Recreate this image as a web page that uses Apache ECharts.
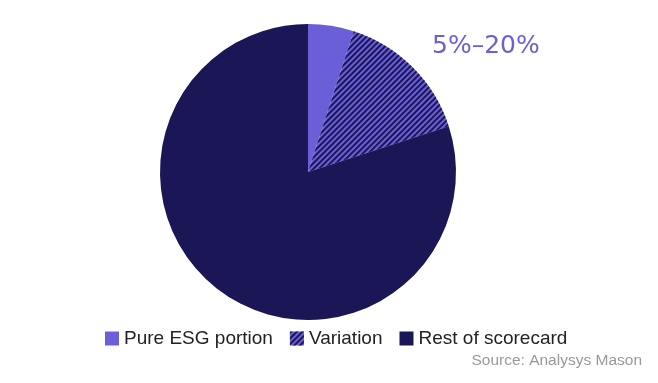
<!DOCTYPE html>
<html><head><meta charset="utf-8">
<script src="https://cdn.jsdelivr.net/npm/echarts@6/dist/echarts.min.js"></script>
<style>html,body{margin:0;padding:0;background:#fff}#c{width:658px;height:383px}</style>
</head><body><div id="c"></div>
<script>
const categories = ["Pure ESG portion", "Variation", "Rest of scorecard"];
const values = [5, 15, 80];
const rangeLabel = "5%–20%";
const sourceText = "Source: Analysys Mason";

const light = "#6a5fd6", dark = "#1b1757";
const chart = echarts.init(document.getElementById('c'), null, {renderer: 'canvas'});
const decal = {symbol: 'rect', symbolSize: 1, dashArrayX: [[1, 0]], dashArrayY: [2, 2], rotation: -Math.PI / 4, color: dark};
chart.setOption({
  animation: false,
  textStyle: {fontFamily: 'Liberation Sans, Arial, sans-serif'},
  legend: {
    data: categories, bottom: 30, left: 100, itemWidth: 14, itemHeight: 14, itemGap: 17,
    textStyle: {fontSize: 19, color: '#222'}, icon: 'rect'
  },
  graphic: [
    {type: 'text', left: 432, top: 34, style: {text: rangeLabel, fontSize: 25, fill: light, fontFamily: 'DejaVu Sans, sans-serif'}},
    {type: 'text', right: 16, top: 353, style: {text: sourceText, fontSize: 15.5, fill: '#999', fontFamily: 'Liberation Sans, Arial, sans-serif'}}
  ],
  series: [{
    type: 'pie', center: [308, 172], radius: 148, startAngle: 90, clockwise: true,
    label: {show: false}, labelLine: {show: false}, emphasis: {disabled: true},
    data: categories.map((n, i) => ({
      name: n, value: values[i],
      itemStyle: i === 0 ? {color: light} : i === 1 ? {color: light, decal: decal} : {color: dark}
    }))
  }]
});
</script></body></html>
